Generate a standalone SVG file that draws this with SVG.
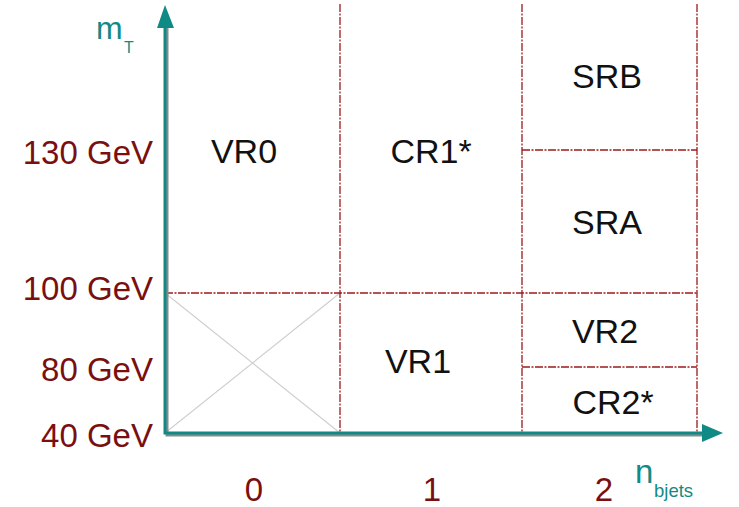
<svg xmlns="http://www.w3.org/2000/svg" width="739" height="507" viewBox="0 0 739 507">
  <style>
    .grid { stroke: #9a1b1b; stroke-width: 1.3; stroke-dasharray: 8 1.5 2 1.5; fill: none; }
    .region { font-family: "Liberation Sans", Arial, sans-serif; font-size: 34px; fill: #111; text-anchor: middle; }
    .tick { font-family: "Liberation Sans", Arial, sans-serif; font-size: 33px; fill: #7a0f0f; }
    .axlbl { font-family: "Liberation Sans", Arial, sans-serif; fill: #138a86; }
    .axis { stroke: #0f8a84; stroke-width: 3; fill: none; }
    .shadow { stroke: #8a8a8a; stroke-width: 3; fill: none; }
  </style>
  <rect width="739" height="507" fill="#ffffff"/>

  <!-- excluded corner region -->
  <g id="excluded">
    <path d="M165 293 L340 433 M165 433 L340 293" stroke="#cfcfcf" stroke-width="1.2" fill="none"/>
  </g>

  <!-- region boundaries -->
  <g id="connectors">
    <line class="grid" x1="340" y1="4" x2="340" y2="433"/>
    <line class="grid" x1="522" y1="4" x2="522" y2="433"/>
    <line class="grid" x1="697" y1="4" x2="697" y2="433"/>
    <line class="grid" x1="165" y1="293" x2="697" y2="293"/>
    <line class="grid" x1="522" y1="150" x2="697" y2="150"/>
    <line class="grid" x1="522" y1="367" x2="697" y2="367"/>
  </g>

  <!-- axes -->
  <g id="axes">
    <path class="shadow" d="M167 26 L167 435 L706 435"/>
    <path class="axis" d="M165 26 L165 433 L706 433"/>
    <polygon points="165,5 157,28 174,28" fill="#0f8a84"/>
    <polygon points="723,433 702,424 702,442" fill="#0f8a84"/>
  </g>

  <g id="VR0"><text class="region" x="244" y="163">VR0</text></g>
  <g id="CR1"><text class="region" x="431" y="163">CR1*</text></g>
  <g id="SRB"><text class="region" x="607" y="88">SRB</text></g>
  <g id="SRA"><text class="region" x="607" y="234">SRA</text></g>
  <g id="VR2"><text class="region" x="605" y="343">VR2</text></g>
  <g id="VR1"><text class="region" x="418" y="373">VR1</text></g>
  <g id="CR2"><text class="region" x="613" y="414">CR2*</text></g>

  <g id="y-ticks">
    <text class="tick" x="153" y="164" text-anchor="end">130 GeV</text>
    <text class="tick" x="153" y="300" text-anchor="end">100 GeV</text>
    <text class="tick" x="153" y="381" text-anchor="end">80 GeV</text>
    <text class="tick" x="153" y="447" text-anchor="end">40 GeV</text>
  </g>

  <g id="x-ticks">
    <text class="tick" x="254" y="501" text-anchor="middle">0</text>
    <text class="tick" x="432" y="501" text-anchor="middle">1</text>
    <text class="tick" x="604" y="501" text-anchor="middle">2</text>
  </g>

  <g id="y-label">
    <text class="axlbl" x="96" y="39" font-size="32">m</text>
    <text class="axlbl" x="124" y="53" font-size="16">T</text>
  </g>
  <g id="x-label">
    <text class="axlbl" x="635" y="483" font-size="33">n</text>
    <text class="axlbl" x="654" y="497" font-size="18.5">bjets</text>
  </g>
</svg>
